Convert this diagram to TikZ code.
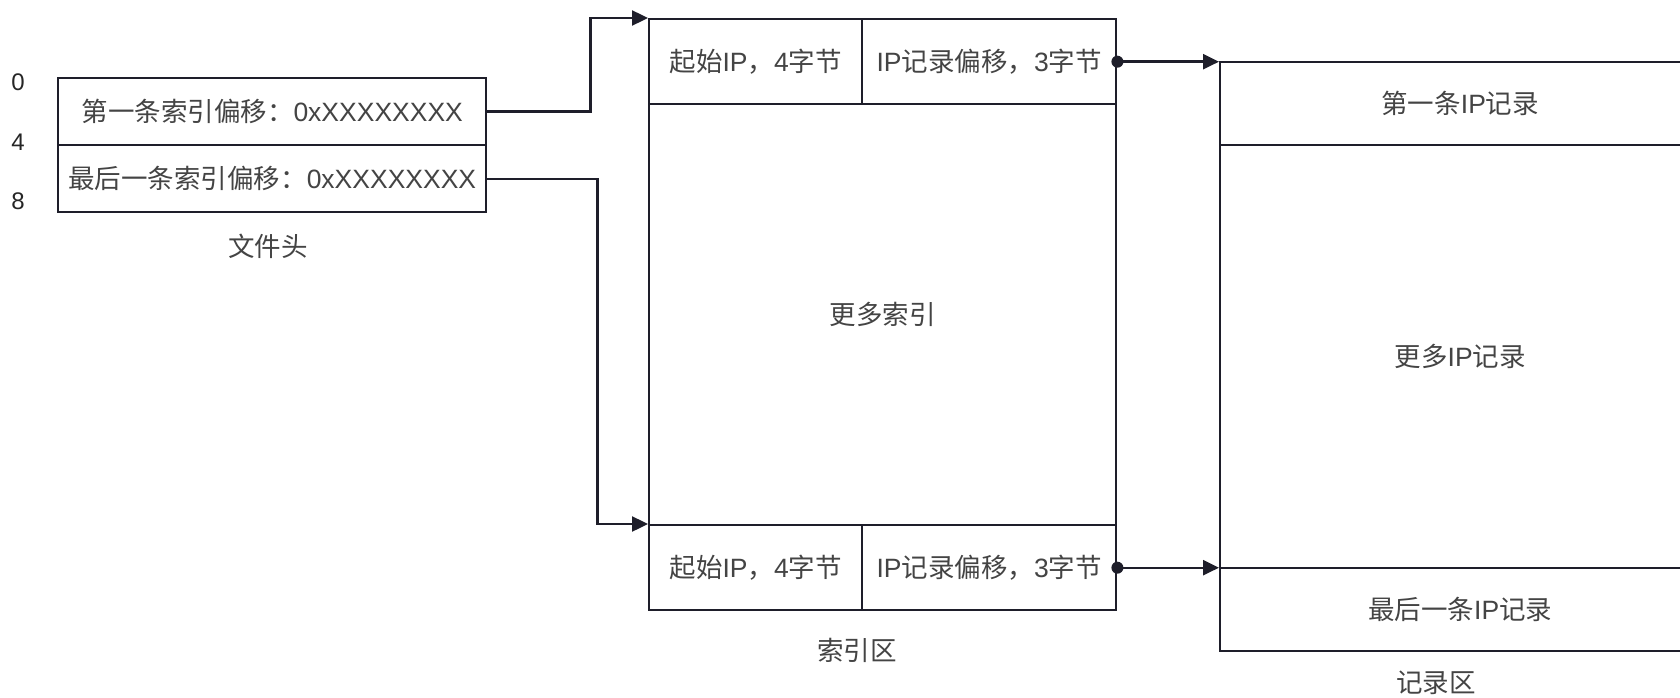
\documentclass[tikz,border=0pt]{standalone}
\usepackage{fontspec}
\setmainfont{Liberation Sans}
\newfontfamily\cjkf{Noto Sans CJK SC}
\newcommand\zh[1]{{\cjkf #1}}
\usetikzlibrary{arrows.meta}
\definecolor{ln}{HTML}{1E1E2A}
\definecolor{tx}{HTML}{444444}
\tikzset{
  cell/.style={draw=ln, line width=2.4pt, anchor=north west, inner sep=0pt,
    text=tx, font=\fontsize{26.5}{31}\selectfont},
  lbl/.style={text=tx, font=\fontsize{26.5}{31}\selectfont, inner sep=0pt},
  num/.style={text=black!85, font=\fontsize{24}{28}\selectfont, inner sep=0pt},
  conn/.style={draw=ln, line width=2.4pt, -{Triangle[length=16pt,width=15pt]}},
}
\begin{document}
\begin{tikzpicture}[x=1pt,y=-1pt]
\path[use as bounding box] (0,0) rectangle (1680,698);
\clip (0,0) rectangle (1680,698);
\fill[white] (0,0) rectangle (1680,698);
% file header
\node[cell, minimum width=428pt, minimum height=67pt] (h1) at (57,77) {\zh{第一条索引偏移：}0xXXXXXXXX};
\node[cell, minimum width=428pt, minimum height=67pt] (h2) at (57,144) {\zh{最后一条索引偏移：}0xXXXXXXXX};
\node[num] (n0) at (18,82) {0};
\node[num] (n4) at (18,142) {4};
\node[num] (n8) at (18,201) {8};
\node[lbl] (hl) at (268,246) {\zh{文件头}};
% index area
\node[cell, minimum width=213pt, minimum height=85pt] (i1a) at (648,18) {\zh{起始}IP\zh{，}4\zh{字节}};
\node[cell, minimum width=254pt, minimum height=85pt] (i1b) at (861,18) {IP\zh{记录偏移，}3\zh{字节}};
\node[cell, minimum width=467pt, minimum height=421pt] (im) at (648,103) {\zh{更多索引}};
\node[cell, minimum width=213pt, minimum height=85pt] (i2a) at (648,524) {\zh{起始}IP\zh{，}4\zh{字节}};
\node[cell, minimum width=254pt, minimum height=85pt] (i2b) at (861,524) {IP\zh{记录偏移，}3\zh{字节}};
\node[lbl] (il) at (857,650) {\zh{索引区}};
% record area
\node[cell, minimum width=480pt, minimum height=83pt, text width=466pt, align=center] (r1) at (1219,61) {\zh{第一条}IP\zh{记录}};
\node[cell, minimum width=480pt, minimum height=423pt, text width=466pt, align=center] (rm) at (1219,144) {\zh{更多}IP\zh{记录}};
\node[cell, minimum width=480pt, minimum height=83pt, text width=466pt, align=center] (r2) at (1219,567) {\zh{最后一条}IP\zh{记录}};
\node[lbl] (rl) at (1436,683) {\zh{记录区}};
% connectors
\draw[conn] (h1.east) -- ++(103,0) |- (i1a.north west);
\draw[conn] (h2.east) -- ++(110,0) |- (i2a.north west);
\draw[conn] (i1b.east) -- (i1b.east -| r1.west);
\draw[conn] (i2b.east) -- (i2b.east -| r2.west);
\fill[ln] (i1b.east) circle (6pt);
\fill[ln] (i2b.east) circle (6pt);
\end{tikzpicture}
\end{document}
